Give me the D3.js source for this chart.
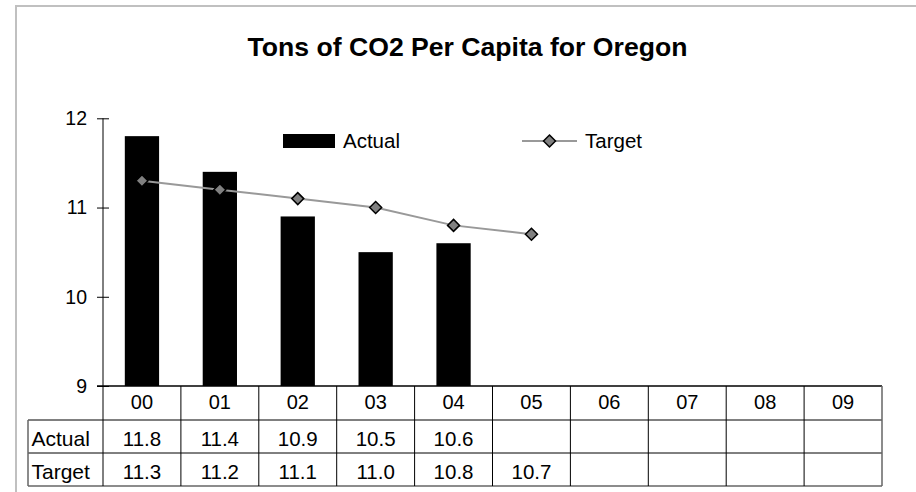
<!DOCTYPE html>
<html><head><meta charset="utf-8">
<script src="https://cdn.jsdelivr.net/npm/d3@7"></script>
<style>
html,body{margin:0;padding:0;background:#fff;}
svg{display:block;font-family:"Liberation Sans",Arial,sans-serif;}
</style></head>
<body>
<svg id="chart" width="916" height="492"></svg>
<script>
const title = "Tons of CO2 Per Capita for Oregon";
const categories = ["00","01","02","03","04","05","06","07","08","09"];
const actualValues = [11.8, 11.4, 10.9, 10.5, 10.6, null, null, null, null, null];
const targetValues = [11.3, 11.2, 11.1, 11.0, 10.8, 10.7, null, null, null, null];
const yTicks = [9, 10, 11, 12];
const seriesNames = ["Actual", "Target"];

const svg = d3.select("#chart");
const plotLeft = 103, plotRight = 882, plotTop = 118.3, plotBottom = 386;
const rowH = [34, 33, 33];
const labelColLeft = 28;

// outer border
svg.append("rect").attr("x",16).attr("y",6).attr("width",1000).attr("height",1000)
  .attr("fill","none").attr("stroke","#c0c0c0").attr("stroke-width",2);

// title
svg.append("text").attr("x",467.5).attr("y",56).attr("text-anchor","middle")
  .attr("font-size",26.6).attr("font-weight","bold").attr("fill","#000").text(title);

const x = d3.scaleBand().domain(categories).range([plotLeft, plotRight]).paddingInner(0).paddingOuter(0);
const y = d3.scaleLinear().domain([9, 12]).range([plotBottom, plotTop]);
const bw = x.bandwidth();
const barW = bw * 0.44;

// bars
svg.append("g").selectAll("rect").data(categories.map((c,i)=>({c, v: actualValues[i]})).filter(d=>d.v!=null))
  .join("rect")
  .attr("x", d => x(d.c) + (bw - barW)/2)
  .attr("y", d => y(d.v))
  .attr("width", barW)
  .attr("height", d => y(9) - y(d.v))
  .attr("fill", "#000");

// y axis
const yAxis = d3.axisLeft(y).tickValues(yTicks).tickSize(0).tickPadding(16).tickFormat(d3.format("d"));
const ya = svg.append("g").attr("transform", `translate(${plotLeft},0)`).call(yAxis);
ya.select(".domain").remove();
ya.selectAll("text").attr("font-size", 19.5).attr("fill","#000").attr("font-family","Liberation Sans, Arial, sans-serif");
ya.selectAll(".tick").append("line").attr("x1",-6).attr("x2",6).attr("stroke","#000").attr("stroke-width",1);
svg.append("line").attr("x1",plotLeft).attr("x2",plotLeft).attr("y1",plotTop).attr("y2",plotBottom)
  .attr("stroke","#000").attr("stroke-width",1);

// target line
const tpts = categories.map((c,i)=>({c, v: targetValues[i]})).filter(d=>d.v!=null);
const line = d3.line().x(d => x(d.c) + bw/2).y(d => y(d.v));
svg.append("path").datum(tpts).attr("d", line).attr("fill","none").attr("stroke","#999").attr("stroke-width",2);
function drawDiamond(g, cx, cy){
  g.append("path").attr("d", `M${cx},${cy-6}L${cx+6},${cy}L${cx},${cy+6}L${cx-6},${cy}Z`)
    .attr("fill","#808080").attr("stroke","#000").attr("stroke-width",1.5);
}
const mg = svg.append("g");
tpts.forEach(d => drawDiamond(mg, x(d.c) + bw/2, y(d.v)));

// legend
const lg = svg.append("g");
lg.append("rect").attr("x",283).attr("y",134).attr("width",52).attr("height",14).attr("fill","#000");
lg.append("text").attr("x",343).attr("y",148).attr("font-size",20.5).attr("fill","#000").text(seriesNames[0]);
lg.append("line").attr("x1",522).attr("x2",577).attr("y1",141).attr("y2",141).attr("stroke","#999").attr("stroke-width",2);
drawDiamond(lg, 549.5, 141);
lg.append("text").attr("x",585).attr("y",148).attr("font-size",20.5).attr("fill","#000").text(seriesNames[1]);

// data table
const t = svg.append("g");
const r0 = plotBottom, r1 = r0 + rowH[0], r2 = r1 + rowH[1], r3 = r2 + rowH[2];
t.selectAll("text.hdr").data(categories).join("text").attr("class","hdr")
  .attr("x", d => x(d) + bw/2).attr("y", r0 + 23).attr("text-anchor","middle")
  .attr("font-size",20).attr("fill","#000").text(d => d);
const fmt = d3.format(".1f");
[[actualValues, r1], [targetValues, r2]].forEach(([vals, top], k) => {
  t.append("text").attr("x", labelColLeft + 3.5).attr("y", top + 26).attr("font-size",21).attr("fill","#000").text(seriesNames[k]);
  t.selectAll(null).data(categories.map((c,i)=>({c, v: vals[i]})).filter(d=>d.v!=null)).join("text")
    .attr("x", d => x(d.c) + bw/2).attr("y", top + 26).attr("text-anchor","middle")
    .attr("font-size",20.5).attr("fill","#000").text(d => fmt(d.v));
});
// grid lines
const gl = (x1,y1,x2,y2,c,w) => t.append("line").attr("x1",x1).attr("y1",y1).attr("x2",x2).attr("y2",y2).attr("stroke",c).attr("stroke-width",w);
gl(plotLeft - 6, r0, plotRight, r0, "#000", 1.5);
gl(labelColLeft, r1, plotRight, r1, "#000", 1);
gl(labelColLeft, r2, plotRight, r2, "#000", 1);
gl(labelColLeft, r3, plotRight, r3, "#666", 1.5);
gl(labelColLeft, r1, labelColLeft, r3, "#666", 1.5);
gl(plotLeft, r0, plotLeft, r3, "#000", 1);
categories.forEach((c,i) => { if (i>0) gl(x(c), r0, x(c), r3, "#000", 1); });
gl(plotRight, r0, plotRight, r3, "#666", 1.5);
</script>
</body></html>
